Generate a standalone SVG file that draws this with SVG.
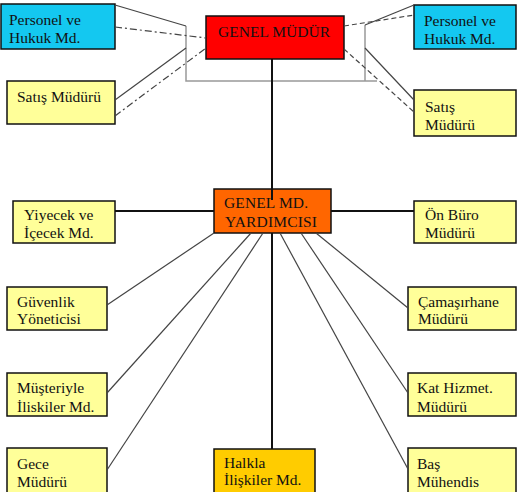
<svg xmlns="http://www.w3.org/2000/svg" width="522" height="492" viewBox="0 0 522 492">
<style>
.box{stroke:#111;stroke-width:1.5}
.y{fill:#ffff99}
.b{fill:#14c8f0}
.t{font-family:"Liberation Serif","Times New Roman",serif;font-size:15.5px;fill:#111}
.c{stroke:#444;stroke-width:1.2;fill:none}
.k{stroke:#111;stroke-width:2;fill:none}
.g{stroke:#999;stroke-width:1.5;fill:none}
.dd{stroke:#444;stroke-width:1.2;stroke-dasharray:7 3 2 3;fill:none}
.ds{stroke:#444;stroke-width:1.2;stroke-dasharray:5 3;fill:none}
</style>
<rect width="522" height="492" fill="#fff"/>
<g id="genel-mudur"><rect class="box" x="206" y="16" width="138" height="43" fill="#ff0000"/><text class="t" x="218" y="37" textLength="112">GENEL MÜDÜR</text></g>
<g id="personel-sol"><rect class="box b" x="1" y="4" width="114" height="45"/><text class="t" x="9" y="25">Personel ve</text><text class="t" x="9" y="43">Hukuk Md.</text></g>
<g id="satis-sol"><rect class="box y" x="7" y="81" width="108" height="43"/><text class="t" x="17" y="102">Satış Müdürü</text></g>
<g id="personel-sag"><rect class="box b" x="414" y="5" width="102" height="44"/><text class="t" x="424" y="26">Personel ve</text><text class="t" x="424" y="44">Hukuk Md.</text></g>
<g id="satis-sag"><rect class="box y" x="414" y="90" width="102" height="46"/><text class="t" x="425" y="112">Satış</text><text class="t" x="425" y="130">Müdürü</text></g>
<g id="yardimci"><rect class="box" x="214" y="189" width="117" height="44" fill="#ff6600"/><text class="t" x="224" y="208" textLength="84">GENEL MD.</text><text class="t" x="225" y="227" textLength="92">YARDIMCISI</text></g>
<g id="yiyecek"><rect class="box y" x="13" y="201" width="102" height="42"/><text class="t" x="24" y="220">Yiyecek ve</text><text class="t" x="24" y="238">İçecek Md.</text></g>
<g id="onburo"><rect class="box y" x="414" y="201" width="102" height="42"/><text class="t" x="425" y="220">Ön Büro</text><text class="t" x="425" y="238">Müdürü</text></g>
<g id="guvenlik"><rect class="box y" x="7" y="287" width="100" height="43"/><text class="t" x="17" y="307">Güvenlik</text><text class="t" x="17" y="324">Yöneticisi</text></g>
<g id="camasirhane"><rect class="box y" x="408" y="287" width="108" height="43"/><text class="t" x="418" y="307">Çamaşırhane</text><text class="t" x="418" y="324">Müdürü</text></g>
<g id="musteri"><rect class="box y" x="7" y="373" width="100" height="43"/><text class="t" x="17" y="393">Müşteriyle</text><text class="t" x="17" y="412">İliskiler Md.</text></g>
<g id="kat"><rect class="box y" x="408" y="373" width="108" height="43"/><text class="t" x="417" y="393">Kat Hizmet.</text><text class="t" x="417" y="412">Müdürü</text></g>
<g id="gece"><rect class="box y" x="7" y="448" width="100" height="50"/><text class="t" x="17" y="469">Gece</text><text class="t" x="17" y="487">Müdürü</text></g>
<g id="halkla"><rect class="box" x="214" y="449" width="101" height="50" fill="#ffcc00"/><text class="t" x="224" y="468">Halkla</text><text class="t" x="224" y="485">İlişkiler Md.</text></g>
<g id="bas"><rect class="box y" x="408" y="448" width="108" height="50"/><text class="t" x="417" y="469">Baş</text><text class="t" x="417" y="487">Mühendis</text></g>
<g id="connectors">
<polyline class="g" points="186,26 186,81 377,81"/>
<line class="g" x1="365" y1="25" x2="365" y2="81"/>
<line class="c" x1="115" y1="5" x2="186" y2="26"/>
<line class="c" x1="115" y1="100" x2="186" y2="48"/>
<line class="dd" x1="115" y1="27" x2="206" y2="38"/>
<line class="dd" x1="115" y1="116" x2="206" y2="48"/>
<line class="c" x1="365" y1="25" x2="414" y2="5"/>
<line class="c" x1="365" y1="48" x2="414" y2="100"/>
<line class="ds" x1="344" y1="26" x2="414" y2="15"/>
<line class="ds" x1="344" y1="49" x2="414" y2="112"/>
<line class="k" x1="272" y1="59" x2="272" y2="200"/>
<line class="k" x1="272" y1="233" x2="272" y2="449"/>
<line class="k" x1="115" y1="211" x2="214" y2="211"/>
<line class="k" x1="331" y1="211" x2="414" y2="211"/>
<line class="c" x1="214" y1="233" x2="107" y2="305"/>
<line class="c" x1="251" y1="233" x2="107" y2="393"/>
<line class="c" x1="263" y1="233" x2="107" y2="470"/>
<line class="c" x1="316" y1="233" x2="408" y2="308"/>
<line class="c" x1="301" y1="233" x2="408" y2="393"/>
<line class="c" x1="280" y1="233" x2="408" y2="469"/>
</g>
</svg>
